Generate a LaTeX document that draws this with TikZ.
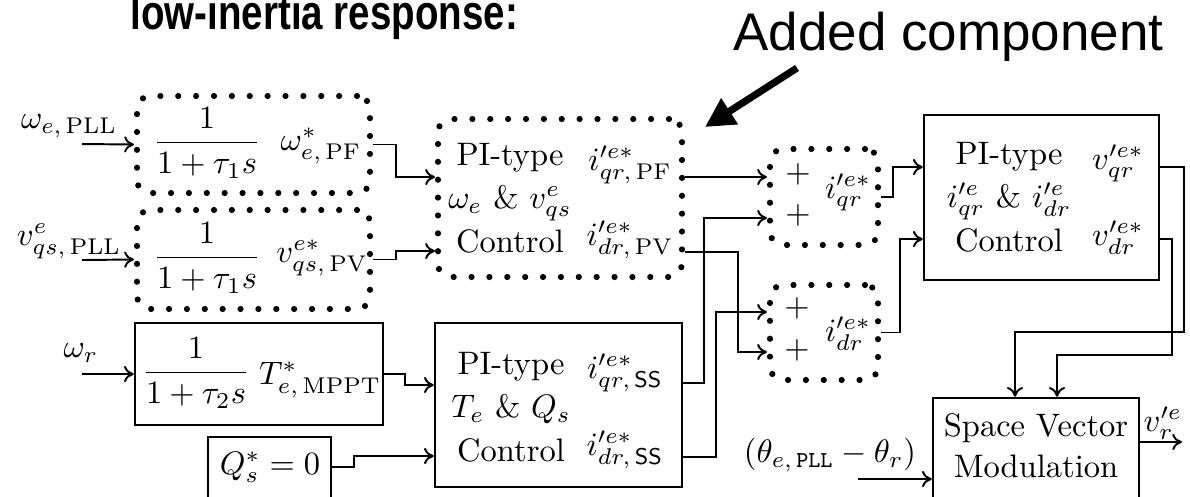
\documentclass[tikz,border=0pt]{standalone}
\usepackage{fontspec}
\newfontfamily\arialfont{Liberation Sans}
\usetikzlibrary{arrows.meta,positioning,fit,calc}
\tikzset{
  block/.style={draw=black,line width=0.75pt,inner sep=0pt},
  addblock/.style={draw=black,line width=1.9pt,dash pattern=on 0pt off 5.5pt,line cap=round,rounded corners=4pt,inner sep=0pt},
  lbl/.style={inner sep=0pt},
  pilbl/.style={inner sep=0pt,align=center,font=\fontsize{10}{13.4}\selectfont},
  flow/.style={-{To[length=3pt,width=5pt]},line width=0.6pt},
  pointer/.style={-{Triangle[length=9pt,width=9pt]},line width=2.2pt}
}
\begin{document}
\begin{tikzpicture}[x=0.3077pt,y=-0.3077pt]
  \useasboundingbox (0,0) rectangle (1190,496);
  \node[anchor=base west,inner sep=0pt,font=\arialfont\bfseries\fontsize{15}{18}\selectfont] (title) at (130,29) {\scalebox{0.79}[1]{low-inertia response:}};
  \node[anchor=base west,inner sep=0pt,font=\arialfont\fontsize{16.3}{19}\selectfont] (added) at (733,50) {Added component};

  % filter blocks
  \node[addblock,fit={(137,96) (370,193)}] (a1) {};
  \node[addblock,fit={(137,210) (370,309)}] (a2) {};
  \node[block,fit={(135,323) (383,425)}] (e) {};
  \node[block,fit={(208,437) (331,505)}] (q) {};
  \node[lbl] (a1f) at (207,143) {$\displaystyle\frac{1}{1+\tau_1 s}$};
  \node[lbl] (a1o) at (321,146) {$\omega^*_{e,\,\mathrm{PF}}$};
  \node[lbl] (a2f) at (207,258) {$\displaystyle\frac{1}{1+\tau_1 s}$};
  \node[lbl] (a2o) at (322,258) {$v^{e*}_{qs,\,\mathrm{PV}}$};
  \node[lbl] (ef) at (196,373) {$\displaystyle\frac{1}{1+\tau_2 s}$};
  \node[lbl] (eo) at (320,380) {$T^*_{e,\,\mathrm{MPPT}}$};
  \node[lbl] (qt) at (270,467) {$Q^*_s=0$};

  % inputs
  \node[lbl] (wpll) at (69,126) {$\omega_{e,\,\mathrm{PLL}}$};
  \node[lbl] (vpll) at (69,241) {$v^e_{qs,\,\mathrm{PLL}}$};
  \node[lbl] (wr) at (81,353) {$\omega_r$};
  \coordinate (win1) at (82,144);
  \coordinate (win2) at (82,260);
  \coordinate (win3) at (82,374);
  \draw[flow] (win1) -- (a1.west);
  \draw[flow] (win2) -- (a2.west);
  \draw[flow] (win3) -- (e.west);

  % PI blocks
  \node[addblock,fit={(438,119) (682,277)}] (b1) {};
  \node[block,fit={(435,323) (682,487)}] (d) {};
  \node[pilbl] (b1t) at (510,198) {PI-type\\$\omega_e$ \& $v^e_{qs}$\\Control};
  \node[lbl] (b1o1) at (630,165) {$i'^{e*}_{qr,\,\mathrm{PF}}$};
  \node[lbl] (b1o2) at (630,240) {$i'^{e*}_{dr,\,\mathrm{PV}}$};
  \node[pilbl] (dt) at (511,407) {PI-type\\$T_e$ \& $Q_s$\\Control};
  \node[lbl] (do1) at (625,373) {$i'^{e*}_{qr,\,\mathsf{SS}}$};
  \node[lbl] (do2) at (625,450) {$i'^{e*}_{dr,\,\mathsf{SS}}$};

  % summing blocks
  \node[addblock,fit={(770,149) (878,245)}] (c1) {};
  \node[addblock,fit={(770,285) (878,380)}] (c2) {};
  \node[lbl] (c1p1) at (798,174) {$+$};
  \node[lbl] (c1p2) at (798,215) {$+$};
  \node[lbl] (c1o) at (848,192) {$i'^{e*}_{qr}$};
  \node[lbl] (c2p1) at (797,308) {$+$};
  \node[lbl] (c2p2) at (797,350) {$+$};
  \node[lbl] (c2o) at (848,334) {$i'^{e*}_{dr}$};

  % current control and modulation
  \node[block,fit={(924,115) (1159,280)}] (f) {};
  \node[pilbl] (ft) at (1009,197) {PI-type\\$i'^e_{qr}$ \& $i'^e_{dr}$\\Control};
  \node[lbl] (fo1) at (1118,163) {$v'^{e*}_{qr}$};
  \node[lbl] (fo2) at (1118,238) {$v'^{e*}_{dr}$};
  \node[block,fit={(933,398) (1139,505)}] (g) {};
  \node[pilbl,font=\fontsize{10}{12.6}\selectfont] (gt) at (1036,446) {Space Vector\\Modulation};
  \node[lbl,anchor=west] (go) at (1143,423) {$v'^e_r$};
  \node[lbl] (theta) at (830,455) {$(\theta_{e,\,\mathtt{PLL}}-\theta_r)$};

  % connections
  \draw[flow] (a1.east) -- ++(23,0) |- (b1.west |- 0,177);
  \draw[flow] (a2.east) -- ++(23,0) |- (b1.west |- 0,251);
  \draw[flow] (e.east) -- ++(21,0) |- (d.west |- 0,385);
  \draw[flow] (q.east |- 0,467) -- ++(22,0) |- (d.west |- 0,456);
  \draw[flow] (b1.east |- 0,177) -- (c1.west |- 0,177);
  \draw[flow] (b1.east |- 0,252) -- ++(53,0) |- (c2.west |- 0,352);
  \draw[flow] (d.east |- 0,383) -- ++(21,0) |- (c1.west |- 0,218);
  \draw[flow] (d.east |- 0,457) -- ++(33,0) |- (c2.west |- 0,312);
  \draw[flow] (c1.east) -- ++(12,0) |- (f.west |- 0,167);
  \draw[flow] (c2.east) -- ++(19,0) |- (f.west |- 0,239);
  \draw[flow] (f.east |- 0,167) -- ++(24,0) |- (1015,332) -- (g.north -| 1015,0);
  \draw[flow] (f.east |- 0,239) -- ++(12,0) |- (1057,355) -- (g.north -| 1057,0);
  \coordinate (thin) at (858,479);
  \draw[flow] (thin) -- (g.west |- thin);
  \coordinate (vout) at (1182,442);
  \draw[flow] (g.east |- vout) -- (vout);
  \coordinate (ptr) at (797,68);
  \coordinate (ptrtip) at (705,127);
  \draw[pointer] (ptr) -- (ptrtip);
\end{tikzpicture}
\end{document}
